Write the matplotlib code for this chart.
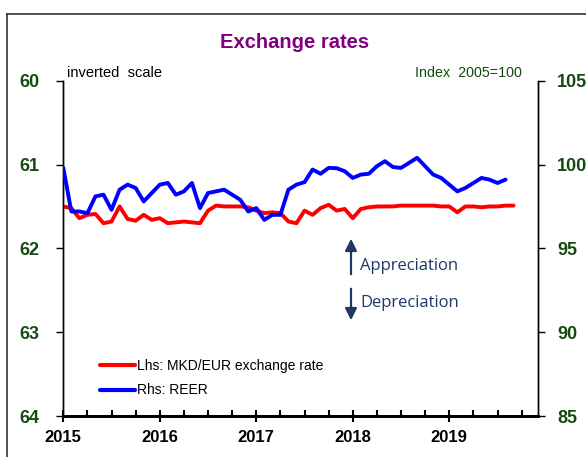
import matplotlib
matplotlib.use("Agg")
import matplotlib.pyplot as plt
from matplotlib.lines import Line2D
import numpy as np

plt.rcParams['font.family'] = ['Liberation Sans', 'DejaVu Sans']

# Data (monthly, starting Jan 2015)
reer = [99.8, 97.2, 97.2, 97.1, 98.1, 98.2, 97.3, 98.5, 98.8, 98.6,
        97.8, 98.3, 98.8, 98.9, 98.2, 98.4, 98.9, 97.4, 98.3, 98.4,
        98.5, 98.2, 97.9, 97.2, 97.4, 96.7, 97.0, 97.0, 98.5, 98.8,
        98.95, 99.7, 99.45, 99.8, 99.78, 99.6, 99.2, 99.4, 99.45, 99.9,
        100.2, 99.85, 99.8, 100.1, 100.4, 99.9, 99.4, 99.2, 98.8, 98.4,
        98.6, 98.9, 99.2, 99.1, 98.9, 99.1]
mkd_eur = [61.50, 61.52, 61.64, 61.60, 61.59, 61.70, 61.68, 61.50, 61.65, 61.67,
           61.60, 61.66, 61.64, 61.70, 61.69, 61.68, 61.69, 61.70, 61.55, 61.49,
           61.50, 61.50, 61.50, 61.51, 61.55, 61.58, 61.57, 61.58, 61.68, 61.70,
           61.55, 61.60, 61.52, 61.48, 61.55, 61.53, 61.64, 61.53, 61.51, 61.50,
           61.50, 61.50, 61.49, 61.49, 61.49, 61.49, 61.49, 61.50, 61.50, 61.57,
           61.50, 61.50, 61.51, 61.50, 61.50, 61.49, 61.49]
year_labels = ['2015', '2016', '2017', '2018', '2019']
left_ticks = [60, 61, 62, 63, 64]
right_ticks = [85, 90, 95, 100, 105]

green = '#174A12'
fig = plt.figure(figsize=(5.86, 4.57), dpi=100)
ax = fig.add_axes([0.108, 0.0897, 0.8096, 0.7337])
ax2 = ax.twinx()

x_red = np.arange(len(mkd_eur))
x_blue = np.arange(len(reer))
l1, = ax.plot(x_red, mkd_eur, color='#FF0000', lw=2.8, solid_capstyle='round', solid_joinstyle='round', zorder=3)
l2, = ax2.plot(x_blue, reer, color='#0000FF', lw=2.8, solid_capstyle='round', solid_joinstyle='round', zorder=4)

ax.set_xlim(0, 59)
ax.set_ylim(64, 60)
ax2.set_ylim(85, 105)
ax.set_yticks(left_ticks)
ax2.set_yticks(right_ticks)
ax.set_xticks([0, 12, 24, 36, 48])
ax.set_xticklabels(year_labels)
ax.set_xticks(np.arange(0, 60, 3), minor=True)

for a in (ax, ax2):
    a.spines['top'].set_visible(False)
    a.spines['left'].set_linewidth(1.0)
    a.spines['right'].set_linewidth(1.0)
    a.spines['bottom'].set_linewidth(2.0)

ax.tick_params(axis='y', direction='out', length=5, width=1, labelsize=13,
               labelcolor=green, pad=12)
for t in ax.get_yticklabels():
    t.set_fontweight('bold')
ax2.tick_params(axis='y', direction='out', length=5, width=1, labelsize=13,
                labelcolor=green, pad=9)
for t in ax2.get_yticklabels():
    t.set_fontweight('bold')
ax.tick_params(axis='x', which='major', direction='inout', length=8, width=1.5,
               labelsize=12, pad=6)
ax.tick_params(axis='x', which='minor', direction='in', length=4, width=1.5)
for t in ax.get_xticklabels():
    t.set_fontweight('bold')

# Texts
fig.text(0.503, 1 - 42 / 457, 'Exchange rates', ha='center', va='center',
         fontsize=14.5, fontweight='bold', color='#800080')
fig.text(67 / 586, 1 - 73 / 457, 'inverted  scale', ha='left', va='center',
         fontsize=10.5, color='black')
fig.text(522 / 586, 1 - 73 / 457, 'Index  2005=100', ha='right', va='center',
         fontsize=10.3, color=green)

# Appreciation / depreciation arrows
navy = '#1F3864'
fig.add_artist(matplotlib.patches.FancyArrowPatch(
    (351 / 586, 1 - 277 / 457), (351 / 586, 1 - 236 / 457),
    transform=fig.transFigure, arrowstyle='-|>,head_length=7,head_width=3.5',
    color=navy, lw=1.6, mutation_scale=1))
fig.add_artist(matplotlib.patches.FancyArrowPatch(
    (351 / 586, 1 - 286 / 457), (351 / 586, 1 - 323 / 457),
    transform=fig.transFigure, arrowstyle='-|>,head_length=7,head_width=3.5',
    color=navy, lw=1.6, mutation_scale=1))
fig.text(360 / 586, 1 - 266 / 457, 'Appreciation', ha='left', va='center',
         fontsize=12, color=navy, family=['Open Sans', 'DejaVu Sans'])
fig.text(360 / 586, 1 - 303 / 457, 'Depreciation', ha='left', va='center',
         fontsize=12, color=navy, family=['Open Sans', 'DejaVu Sans'])

# Legend
leg = ax.legend([l1, l2], ['Lhs: MKD/EUR exchange rate', 'Rhs: REER'],
                loc='upper left', bbox_to_anchor=(100 / 586, 1 - 359 / 457),
                bbox_transform=fig.transFigure, frameon=False, fontsize=10,
                handlelength=2.5, handletextpad=0.15, labelspacing=0.75,
                borderaxespad=0, borderpad=0)
for h in leg.legend_handles:
    h.set_linewidth(3)

# Figure border (partially visible)
fig.add_artist(Line2D([7 / 586, 7 / 586], [0, 1 - 14 / 457], transform=fig.transFigure,
                      color='#333333', lw=1.2))
fig.add_artist(Line2D([7 / 586, 1], [1 - 14 / 457, 1 - 14 / 457], transform=fig.transFigure,
                      color='#333333', lw=1.2))

fig.savefig('out.png', dpi=100)
